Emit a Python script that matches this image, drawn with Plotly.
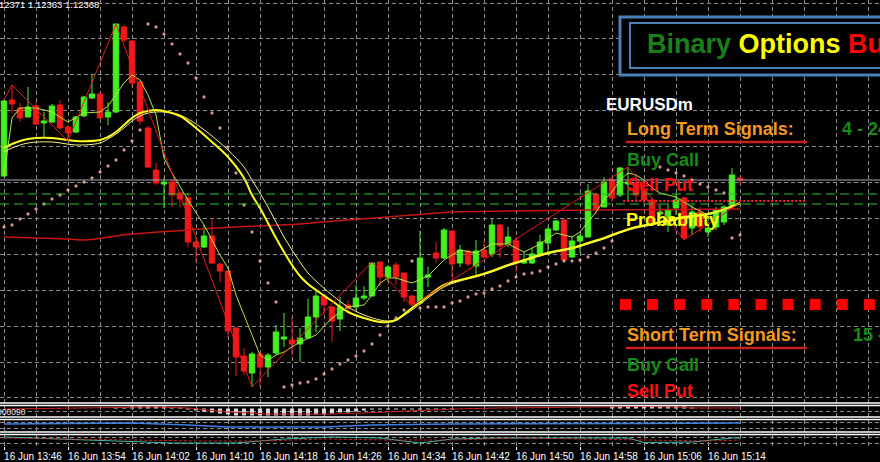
import plotly.graph_objects as go

W, H = 880, 462
def px(x): return x / W
def py(y): return 1 - y / H

# ---------------- data (EURUSDm, M1, 16 Jun 13:46 -> 15:18) ----------------
TICK_LABELS = ["16 Jun 13:46", "16 Jun 13:54", "16 Jun 14:02", "16 Jun 14:10", "16 Jun 14:18",
               "16 Jun 14:26", "16 Jun 14:34", "16 Jun 14:42", "16 Jun 14:50", "16 Jun 14:58",
               "16 Jun 15:06", "16 Jun 15:14"]

OPEN = [1.12372, 1.12448, 1.12440, 1.12431, 1.12442, 1.12425, 1.12426, 1.12443, 1.12421, 1.12416,
        1.12432, 1.12450, 1.12454, 1.12431, 1.12436, 1.12521, 1.12507, 1.12466, 1.12420, 1.12378,
        1.12364, 1.12366, 1.12355, 1.12350, 1.12306, 1.12301, 1.12312, 1.12284, 1.12277, 1.12220,
        1.12192, 1.12175, 1.12194, 1.12181, 1.12195, 1.12209, 1.12208, 1.12204, 1.12210, 1.12231,
        1.12252, 1.12241, 1.12229, 1.12243, 1.12241, 1.12250, 1.12252, 1.12286, 1.12271, 1.12283,
        1.12275, 1.12252, 1.12245, 1.12271, 1.12295, 1.12290, 1.12317, 1.12285, 1.12297, 1.12282,
        1.12298, 1.12294, 1.12323, 1.12304, 1.12307, 1.12285, 1.12285, 1.12293, 1.12305, 1.12318,
        1.12328, 1.12291, 1.12307, 1.12311, 1.12354, 1.12341, 1.12368, 1.12353, 1.12364, 1.12365,
        1.12358, 1.12348, 1.12334, 1.12323, 1.12340, 1.12350, 1.12320, 1.12336, 1.12316, 1.12321,
        1.12326, 1.12343, 1.12370]
HIGH = [1.12448, 1.12463, 1.12445, 1.12461, 1.12446, 1.12436, 1.12444, 1.12448, 1.12423, 1.12432,
        1.12452, 1.12474, 1.12456, 1.12446, 1.12524, 1.12523, 1.12508, 1.12467, 1.12422, 1.12385,
        1.12370, 1.12368, 1.12356, 1.12355, 1.12311, 1.12323, 1.12330, 1.12285, 1.12278, 1.12221,
        1.12200, 1.12196, 1.12196, 1.12195, 1.12223, 1.12235, 1.12230, 1.12220, 1.12249, 1.12258,
        1.12253, 1.12242, 1.12251, 1.12248, 1.12263, 1.12262, 1.12286, 1.12286, 1.12283, 1.12286,
        1.12275, 1.12253, 1.12317, 1.12281, 1.12306, 1.12320, 1.12318, 1.12303, 1.12298, 1.12308,
        1.12306, 1.12329, 1.12324, 1.12321, 1.12311, 1.12296, 1.12300, 1.12313, 1.12321, 1.12328,
        1.12329, 1.12312, 1.12314, 1.12364, 1.12355, 1.12371, 1.12370, 1.12381, 1.12381, 1.12373,
        1.12368, 1.12350, 1.12343, 1.12345, 1.12355, 1.12351, 1.12343, 1.12341, 1.12326, 1.12341,
        1.12343, 1.12380, 1.12371]
LOW = [1.12371, 1.12435, 1.12426, 1.12431, 1.12423, 1.12410, 1.12425, 1.12419, 1.12407, 1.12415,
       1.12431, 1.12449, 1.12429, 1.12423, 1.12435, 1.12506, 1.12461, 1.12423, 1.12380, 1.12363,
       1.12340, 1.12341, 1.12341, 1.12301, 1.12286, 1.12300, 1.12284, 1.12266, 1.12211, 1.12172,
       1.12173, 1.12161, 1.12162, 1.12171, 1.12193, 1.12201, 1.12193, 1.12186, 1.12210, 1.12216,
       1.12233, 1.12206, 1.12217, 1.12237, 1.12238, 1.12248, 1.12252, 1.12262, 1.12266, 1.12263,
       1.12246, 1.12242, 1.12245, 1.12261, 1.12285, 1.12289, 1.12268, 1.12281, 1.12282, 1.12273,
       1.12290, 1.12291, 1.12290, 1.12301, 1.12276, 1.12284, 1.12284, 1.12291, 1.12293, 1.12317,
       1.12287, 1.12290, 1.12295, 1.12311, 1.12333, 1.12341, 1.12346, 1.12351, 1.12348, 1.12348,
       1.12343, 1.12325, 1.12328, 1.12316, 1.12333, 1.12308, 1.12313, 1.12316, 1.12311, 1.12318,
       1.12323, 1.12343, 1.12363]
CLOSE = [1.12447, 1.12444, 1.12430, 1.12441, 1.12424, 1.12427, 1.12442, 1.12420, 1.12415, 1.12431,
         1.12451, 1.12454, 1.12430, 1.12436, 1.12524, 1.12508, 1.12465, 1.12427, 1.12381, 1.12365,
         1.12366, 1.12353, 1.12349, 1.12306, 1.12301, 1.12312, 1.12285, 1.12277, 1.12217, 1.12191,
         1.12177, 1.12194, 1.12181, 1.12193, 1.12216, 1.12211, 1.12204, 1.12210, 1.12231, 1.12252,
         1.12243, 1.12227, 1.12241, 1.12240, 1.12250, 1.12252, 1.12285, 1.12271, 1.12281, 1.12271,
         1.12251, 1.12244, 1.12290, 1.12273, 1.12290, 1.12318, 1.12284, 1.12298, 1.12284, 1.12297,
         1.12291, 1.12323, 1.12302, 1.12311, 1.12285, 1.12287, 1.12294, 1.12306, 1.12319, 1.12327,
         1.12288, 1.12307, 1.12312, 1.12357, 1.12338, 1.12366, 1.12350, 1.12380, 1.12366, 1.12353,
         1.12348, 1.12326, 1.12336, 1.12338, 1.12348, 1.12310, 1.12336, 1.12321, 1.12320, 1.12338,
         1.12341, 1.12373, 1.12368]
BARS = list(range(len(CLOSE)))

# fast MA (light green)
FAST_K = [0, 1, 2, 4, 6, 8, 10, 12, 13, 14, 15, 16, 17, 18, 19, 20, 21, 23, 25, 27, 28, 29, 30, 31, 32,
          33, 34, 35, 37, 39, 41, 43, 45, 46, 47, 48, 49, 51, 53, 55, 57, 59, 61, 63, 65, 67, 69, 71,
          72, 73, 74, 75, 76, 77, 78, 79, 80, 81, 82, 84, 86, 88, 90, 91, 92]
FAST_V = [1.12373, 1.12430, 1.12440, 1.12440, 1.12436, 1.12426, 1.12435, 1.12436, 1.12442, 1.12453,
          1.12465, 1.12473, 1.12468, 1.12453, 1.12433, 1.12390, 1.12375, 1.12348, 1.12323, 1.12293,
          1.12280, 1.12253, 1.12233, 1.12213, 1.12193, 1.12188, 1.12193, 1.12196, 1.12206, 1.12213,
          1.12230, 1.12241, 1.12243, 1.12253, 1.12265, 1.12270, 1.12270, 1.12265, 1.12272, 1.12288,
          1.12298, 1.12295, 1.12304, 1.12304, 1.12296, 1.12304, 1.12315, 1.12311, 1.12316, 1.12326,
          1.12336, 1.12348, 1.12356, 1.12368, 1.12375, 1.12373, 1.12368, 1.12360, 1.12355, 1.12351,
          1.12341, 1.12333, 1.12338, 1.12343, 1.12345]
# slow MAs (yellow pair)
SLOW_K = [0, 1, 3, 6, 9, 12, 13, 14, 15, 16, 17, 18, 19, 20, 22, 24, 26, 28, 30, 31, 32, 33, 34, 35,
          36, 37, 38, 39, 41, 43, 45, 47, 48, 49, 51, 53, 55, 57, 59, 61, 63, 65, 67, 69, 71, 73, 75,
          77, 79, 81, 83, 85, 87, 89, 91, 92]
YELLOW_A = [1.12400, 1.12404, 1.12409, 1.12410, 1.12407, 1.12408, 1.12411, 1.12416, 1.12423, 1.12430,
            1.12435, 1.12437, 1.12438, 1.12437, 1.12432, 1.12420, 1.12406, 1.12391, 1.12370, 1.12353,
            1.12340, 1.12325, 1.12310, 1.12296, 1.12283, 1.12272, 1.12264, 1.12258, 1.12247, 1.12236,
            1.12230, 1.12226, 1.12226, 1.12228, 1.12240, 1.12252, 1.12263, 1.12268, 1.12272, 1.12277,
            1.12283, 1.12288, 1.12293, 1.12297, 1.12300, 1.12305, 1.12310, 1.12316, 1.12321, 1.12324,
            1.12328, 1.12331, 1.12333, 1.12336, 1.12342, 1.12345]
YELLOW_B = [1.12396, 1.12400, 1.12405, 1.12406, 1.12403, 1.12405, 1.12409, 1.12414, 1.12420, 1.12427,
            1.12432, 1.12435, 1.12436, 1.12436, 1.12433, 1.12424, 1.12412, 1.12398, 1.12381, 1.12368,
            1.12355, 1.12341, 1.12326, 1.12311, 1.12298, 1.12286, 1.12275, 1.12267, 1.12253, 1.12241,
            1.12233, 1.12228, 1.12227, 1.12228, 1.12238, 1.12250, 1.12261, 1.12267, 1.12271, 1.12276,
            1.12282, 1.12287, 1.12292, 1.12296, 1.12299, 1.12304, 1.12309, 1.12315, 1.12320, 1.12323,
            1.12327, 1.12330, 1.12332, 1.12335, 1.12341, 1.12344]
# long MA (red)
LONG_K = [0, 4, 8, 10, 16, 23, 29, 37, 43, 51, 56, 63, 74, 92]
LONG_V = [1.12311, 1.12310, 1.12309, 1.12308, 1.12314, 1.12318, 1.12321, 1.12324, 1.12328, 1.12333,
          1.12336, 1.12337, 1.12338, 1.12339]
# parabolic SAR
SAR_K = list(range(0, 35)) + list(range(35, 51)) + [51] + list(range(52, 77)) + list(range(82, 91)) + [91, 92]
SAR_V = [1.12321, 1.12323, 1.12329, 1.12334, 1.12339, 1.12344, 1.12349, 1.12353, 1.12358, 1.12362,
         1.12366, 1.12370, 1.12376, 1.12382, 1.12388, 1.12398, 1.12407, 1.12418,
         1.12524, 1.12521, 1.12514, 1.12504, 1.12494, 1.12485, 1.12470, 1.12451, 1.12435, 1.12420,
         1.12401, 1.12375, 1.12343, 1.12316, 1.12287, 1.12265, 1.12246,
         1.12161, 1.12163, 1.12165, 1.12166, 1.12169, 1.12174, 1.12179, 1.12184, 1.12188, 1.12192,
         1.12197, 1.12204, 1.12213, 1.12222, 1.12230, 1.12238,
         1.12287,
         1.12240, 1.12241, 1.12241, 1.12241, 1.12245, 1.12247, 1.12251, 1.12254, 1.12255, 1.12259,
         1.12262, 1.12267, 1.12271, 1.12274, 1.12275, 1.12277, 1.12281, 1.12284, 1.12287, 1.12287,
         1.12288, 1.12291, 1.12295, 1.12300, 1.12307,
         1.12381, 1.12378, 1.12375, 1.12372, 1.12368, 1.12364, 1.12361, 1.12358, 1.12355,
         1.12310, 1.12313]
# zigzag
ZZ_K = [0, 1, 8, 14, 31, 46, 51, 78, 85, 92]
ZZ_V = [1.12448, 1.12463, 1.12407, 1.12524, 1.12161, 1.12286, 1.12242, 1.12381, 1.12308, 1.12345]
# horizontal levels
GREEN_LEVELS = [1.12354, 1.12344]
RED_LEVEL = 1.12347
RED_LEVEL_SPAN = [77.4, 100.25]

# sub window 1 (histogram + signal, in points)
HIST_PTS = [0] * 14 + [1, 1, 2, 2, 2, 2, 2, 1, 1] + [-1, -2, -3, -4, -5, -6] + [-7] * 10 + \
           [-6, -6, -5, -4, -4, -3, -2, -1] + [-1] * 10 + [0] * 19 + [2, 2, 2, 3, 3, 3, 2, 2, 2, 2, 1] + [0] * 6
SIG_K = [0, 16, 19, 23, 28, 33, 41, 45, 50, 53, 56, 62, 74, 80, 84, 86, 92]
SIG_V = [-0.5, 1.5, 1.5, 0.5, -3.5, -5.5, -5.5, -4.5, -2.5, -1.5, -0.5, 0.5, 1.5, 2, 1.5, 0.5, 0.5]
# sub window 2
BLUE_K = [0, 16, 23, 28, 40, 46, 56, 70, 80, 92]
BLUE_V = [64, 72, 56, 40, 40, 56, 64, 64, 68, 72]
# sub window 3
TEAL_K = [0, 4, 12, 16, 21, 29, 35, 41, 47, 52, 56, 62, 70, 78, 80, 86, 91, 92]
TEAL_V = [72, 64, 48, 36, 24, 24, 56, 72, 64, 24, 56, 64, 64, 64, 28, 32, 64, 64]
RDASH_K = [0, 8, 16, 24, 32, 40, 48, 56, 64, 72, 80, 88, 92]
RDASH_V = [64, 56, 48, 40, 40, 56, 48, 48, 64, 56, 48, 40, 48]

# ---------------- style ----------------
GREEN = "#44ee22"
RED = "#f01818"
GRID = "#8c8c8c"
GDASH = "4px,3px"
FONT = "Liberation Sans, Arial, sans-serif"

fig = go.Figure()
fig.add_trace(go.Candlestick(
    x=BARS, open=OPEN, high=HIGH, low=LOW, close=CLOSE,
    increasing=dict(line=dict(color=GREEN, width=1), fillcolor=GREEN),
    decreasing=dict(line=dict(color=RED, width=1), fillcolor=RED),
    whiskerwidth=0, hoverinfo="skip", xaxis="x", yaxis="y"))
fig.add_trace(go.Scatter(x=LONG_K, y=LONG_V, mode="lines", line=dict(color="#c81414", width=1.5),
                         line_shape="spline", xaxis="x", yaxis="y"))
fig.add_trace(go.Scatter(x=SLOW_K, y=YELLOW_B, mode="lines", line=dict(color="#f4f08a", width=1),
                         line_shape="spline", xaxis="x", yaxis="y"))
fig.add_trace(go.Scatter(x=SLOW_K, y=YELLOW_A, mode="lines", line=dict(color="#ffff1e", width=2),
                         line_shape="spline", xaxis="x", yaxis="y"))
fig.add_trace(go.Scatter(x=FAST_K, y=FAST_V, mode="lines", line=dict(color="#b0e840", width=1),
                         xaxis="x", yaxis="y"))
fig.add_trace(go.Scatter(x=ZZ_K, y=ZZ_V, mode="lines", line=dict(color="#e01c1c", width=1),
                         xaxis="x", yaxis="y"))
fig.add_trace(go.Scatter(x=SAR_K, y=SAR_V, mode="markers",
                         marker=dict(symbol="cross", size=3, color="#ffb8a8"),
                         xaxis="x", yaxis="y"))
fig.add_trace(go.Scatter(x=RED_LEVEL_SPAN, y=[RED_LEVEL, RED_LEVEL], mode="lines",
                         line=dict(color="#ff2020", width=2, dash="2px,2px"), xaxis="x", yaxis="y"))

# sub windows
fig.add_trace(go.Bar(x=BARS, y=HIST_PTS, width=0.5, marker=dict(color="#d8d8d8", line=dict(width=0)),
                     xaxis="x2", yaxis="y2"))
fig.add_trace(go.Scatter(x=SIG_K, y=SIG_V, mode="lines", line=dict(color="#c81e1e", width=1),
                         xaxis="x2", yaxis="y2"))
fig.add_trace(go.Scatter(x=BLUE_K, y=BLUE_V, mode="lines", line=dict(color="#3d7fe0", width=1.5),
                         xaxis="x3", yaxis="y3"))
fig.add_trace(go.Scatter(x=TEAL_K, y=TEAL_V, mode="lines", line=dict(color="#3cc0b0", width=1),
                         xaxis="x4", yaxis="y4"))
fig.add_trace(go.Scatter(x=RDASH_K, y=RDASH_V, mode="lines", line=dict(color="#d02020", width=1, dash="3px,2px"),
                         xaxis="x4", yaxis="y4"))

grid = dict(showgrid=True, gridcolor=GRID, griddash=GDASH, gridwidth=1, zeroline=False,
            showline=False, fixedrange=True)
xr = [-0.5, 109.5]
xbase = dict(range=xr, domain=[0, 1], tickmode="linear", tick0=0, dtick=4, showticklabels=False,
             ticks="", **grid)

layout = dict(
    width=W, height=H, margin=dict(l=0, r=0, t=0, b=0, autoexpand=False),
    paper_bgcolor="black", plot_bgcolor="black", showlegend=False, hovermode=False,
    boxgap=0.2, boxgroupgap=0.15,
    xaxis=dict(anchor="y", rangeslider=dict(visible=False), **xbase),
    xaxis2=dict(anchor="y2", matches="x", **xbase),
    xaxis3=dict(anchor="y3", matches="x", **xbase),
    xaxis4=dict(anchor="y4", matches="x", range=xr, domain=[0, 1],
                tickmode="array", tickvals=list(range(0, 8 * len(TICK_LABELS), 8)), ticktext=TICK_LABELS,
                showticklabels=True, ticks="outside", ticklen=3, tickcolor="white", tickangle=0,
                tickfont=dict(family=FONT, size=10, color="white"), ticklabelshift=29,
                ticklabelstandoff=-2, automargin=False,
                minor=dict(tickmode="linear", tick0=0, dtick=4, showgrid=True, gridcolor=GRID,
                           griddash=GDASH, ticks=""),
                **grid),
    yaxis=dict(anchor="x", domain=[py(403), 1], range=[1.12145, 1.12548], tickmode="linear",
               tick0=1.12545, dtick=0.000359, showticklabels=False, ticks="", **grid),
    yaxis2=dict(anchor="x2", domain=[py(417), py(405.5)], range=[-8.5, 3], tickmode="array",
                tickvals=[-2.5], showticklabels=False, ticks="", **grid),
    yaxis3=dict(anchor="x3", domain=[py(432), py(419.5)], range=[0, 100], tickmode="array",
                tickvals=[32, 80], showticklabels=False, ticks="", **grid),
    yaxis4=dict(anchor="x4", domain=[py(446), py(434.5)], range=[0, 92], tickmode="array",
                tickvals=[24, 72], showticklabels=False, ticks="", **grid),
)
fig.update_layout(**layout)

shapes = []
# bid line and green levels
shapes.append(dict(type="line", xref="x", yref="y", x0=xr[0], x1=xr[1], y0=CLOSE[-1], y1=CLOSE[-1],
                   line=dict(color="#a8a8b4", width=1)))
for lv in GREEN_LEVELS:
    shapes.append(dict(type="line", xref="x", yref="y", x0=xr[0], x1=xr[1], y0=lv, y1=lv,
                       line=dict(color="#30c030", width=1, dash="9px,5px")))
# window separators
for yy in [403, 405.5, 417, 419.5, 432, 434.5]:
    shapes.append(dict(type="line", xref="paper", yref="paper", x0=0, x1=1, y0=py(yy), y1=py(yy),
                       line=dict(color="white", width=1.3)))
# title boxes
shapes.append(dict(type="rect", xref="paper", yref="paper", x0=px(620), x1=px(900), y0=py(75), y1=py(17),
                   line=dict(color="#4a80b8", width=3), fillcolor="black"))
shapes.append(dict(type="rect", xref="paper", yref="paper", x0=px(630), x1=px(900), y0=py(68), y1=py(23),
                   line=dict(color="#4a80b8", width=2), fillcolor="rgba(0,0,0,0)"))
# underlines
for yy in [142, 348]:
    shapes.append(dict(type="line", xref="paper", yref="paper", x0=px(626), x1=px(807), y0=py(yy), y1=py(yy),
                       line=dict(color="#c8201c", width=2.5)))
# row of red squares
for i in range(10):
    x0 = 620 + 27.1 * i
    shapes.append(dict(type="rect", xref="paper", yref="paper", x0=px(x0), x1=px(x0 + 11),
                       y0=py(310), y1=py(299), line=dict(width=0), fillcolor="#ff0000"))
fig.update_layout(shapes=shapes)

ORANGE = "#f39a1e"
DGREEN = "#178a17"
notes = [
    ("<b><span style='color:#1a7f1a'>Binary</span> <span style='color:#ffff00'>Options</span> "
     "<span style='color:#ff0000'>Buddy</span></b>", 645, 44, "#ffffff", 27),
    ("<b>EURUSDm</b>", 604, 104, "#ffffff", 17),
    ("<b>Long Term Signals:</b>", 625, 129, ORANGE, 18),
    ("<b>4 - 24</b>", 840, 129, DGREEN, 18),
    ("<b>Buy Call</b>", 625, 160, DGREEN, 18),
    ("<b>Sell Put</b>", 625, 185, "#ff1010", 18),
    ("<b>Probability</b>", 624, 220, "#ffff00", 18),
    ("<b>Short Term Signals:</b>", 625, 335, ORANGE, 18),
    ("<b>15 - 30</b>", 851, 335, DGREEN, 18),
    ("<b>Buy Call</b>", 625, 365, DGREEN, 18),
    ("<b>Sell Put</b>", 625, 391, "#ff1010", 18),
]
annotations = []
for text, x, y, color, size in notes:
    annotations.append(dict(text=text, x=px(x), y=py(y), xref="paper", yref="paper", showarrow=False,
                            xanchor="left", yanchor="middle",
                            font=dict(family=FONT, size=size, color=color)))
annotations.append(dict(text="1.12371 1.12363 1.12368", x=px(101), y=py(4), xref="paper", yref="paper",
                        showarrow=False, xanchor="right", yanchor="middle",
                        font=dict(family=FONT, size=9.5, color="white")))
annotations.append(dict(text="0.000090", x=px(28), y=py(412), xref="paper", yref="paper",
                        showarrow=False, xanchor="right", yanchor="middle",
                        font=dict(family=FONT, size=8.5, color="#e8e8e8")))
fig.update_layout(annotations=annotations)

fig.write_html("out.html", config={"displayModeBar": False}, post_script=(
    "document.body.style.margin='0';document.body.style.padding='0';"
    "document.body.style.background='black';document.body.style.overflow='hidden';"))
